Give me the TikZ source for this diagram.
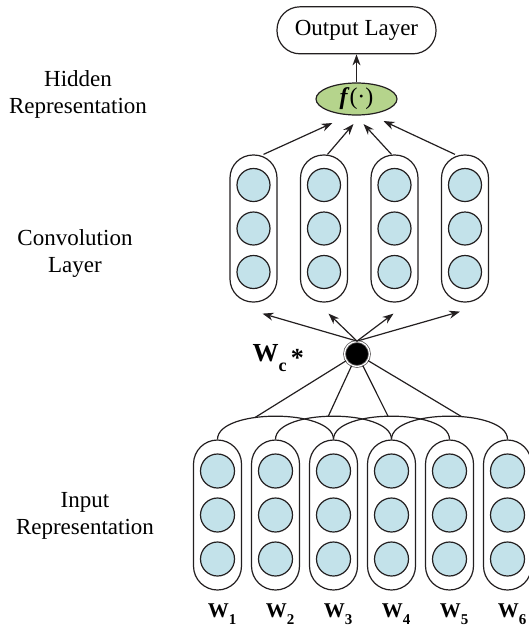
\documentclass[tikz,border=0pt]{standalone}
\usepackage{fontspec}
\setmainfont{Liberation Serif}
\usetikzlibrary{arrows.meta, positioning, calc, shapes.geometric}
\definecolor{cellblue}{HTML}{C3E2EA}
\definecolor{actgreen}{HTML}{B5D48C}
\definecolor{ink}{HTML}{231F20}
\newcommand{\wvec}[1]{\textbf{W}\raisebox{-7pt}{\fontsize{15}{15}\selectfont\textbf{#1}}}
\tikzset{
    pill/.style={
        rectangle,
        draw=ink,
        line width=1.2pt,
        rounded corners=23pt,
        minimum width=47pt,
        minimum height=147pt,
        inner sep=0pt
    },
    inpill/.style={
        pill,
        rounded corners=24pt,
        minimum width=48pt,
        minimum height=150pt
    },
    cell/.style={
        circle,
        draw=ink,
        line width=1.2pt,
        fill=cellblue,
        minimum size=33pt,
        inner sep=0pt
    },
    outbox/.style={
        rectangle,
        draw=ink,
        line width=1.2pt,
        rounded corners=23pt,
        minimum width=159pt,
        minimum height=47pt,
        font=\fontsize{23}{27}\selectfont
    },
    act/.style={
        ellipse,
        draw=ink,
        line width=1.2pt,
        fill=actgreen,
        minimum width=81pt,
        minimum height=32pt,
        inner sep=0pt,
        font=\fontsize{24}{27}\selectfont
    },
    hub/.style={
        circle,
        fill=black,
        draw=ink!70,
        line width=0.8pt,
        double=white,
        double distance=1.2pt,
        minimum size=25pt,
        inner sep=0pt
    },
    lbl/.style={
        align=center,
        font=\fontsize{23}{27}\selectfont
    },
    wlbl/.style={
        inner sep=0pt,
        font=\fontsize{21}{21}\selectfont
    },
    wire/.style={
        draw=ink,
        line width=1.2pt
    },
    arr/.style={
        wire,
        -{Stealth[length=11pt,width=8pt]}
    }
}

\begin{document}
\begin{tikzpicture}[x=1pt, y=-1pt]
\clip (0,0) rectangle (529,630);

% top: activation and output
\node[act] (f) at (356.5,99) {\textbf{\textit{f}}(·)};
\node[outbox, above=28pt of f] (out) {Output Layer};
\draw[arr] (f) -- (out);

% convolution layer
\foreach \i in {1,...,4} {
    \node[pill] (c\i) at ({253.5+70.5*(\i-1)},228.5) {};
    \foreach \j/\dy in {a/-43.5, b/0, c/43.5}
        \node[cell] (c\i\j) at ($(c\i.center)+(0,\dy)$) {};
}
\foreach \i/\sx/\dx/\dy in {1/10/-24/24, 2/3.5/-3/25, 3/-3/7/25, 4/-10/27/22} {
    \coordinate (u\i) at ($(f.center)+(\dx,\dy)$);
    \draw[arr] ($(c\i.north)+(\sx,0)$) -- (u\i);
}

% filter
\node[hub] (wc) at (357,354) {};
\node[wlbl, font=\fontsize{26}{26}\selectfont, left=40pt of wc, yshift=-4.5pt] (wclbl)
    {\textbf{W}\raisebox{-10pt}{\fontsize{18}{18}\selectfont\textbf{c}}\,\raisebox{-5pt}{\textbf{*}}};
\foreach \i/\dx/\dy in {1/9/11, 2/4.5/11, 3/-1/11, 4/-5/9} {
    \coordinate (t\i) at ($(c\i.south)+(\dx,\dy)$);
    \draw[arr] (wc.north) -- (t\i);
}

% input representation
\foreach \i in {1,...,6} {
    \node[inpill] (i\i) at ({217.5+58*(\i-1)},515) {};
    \foreach \j/\dy in {a/-44, b/0, c/44}
        \node[cell, minimum size=34pt] (i\i\j) at ($(i\i.center)+(0,\dy)$) {};
    \node[wlbl, below=13pt of i\i.south, xshift=4.5pt] (w\i) {\wvec{\i}};
}
\foreach \i/\p in {1/0.38, 2/0.47, 3/0.48, 4/0.57} {
    \pgfmathtruncatemacro\k{\i+2}
    \draw[wire] (i\i.north) .. controls +(0,-31) and +(0,-31) .. (i\k.north)
        coordinate[pos=\p] (h\i);
    \draw[wire] (wc) -- (h\i);
}

% side labels
\node[lbl] (hidlbl) at (78,94) {Hidden\\Representation};
\node[lbl] (convlbl) at (75,253) {Convolution\\Layer};
\node[lbl] (inlbl) at (85,516) {Input\\Representation};

\end{tikzpicture}
\end{document}
